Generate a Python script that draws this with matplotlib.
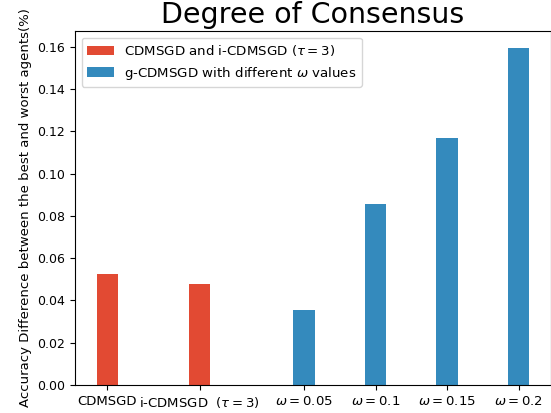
import matplotlib
matplotlib.use("Agg")
import matplotlib.pyplot as plt

# data
red_labels = ["CDMSGD", "i-CDMSGD  ($\\tau=3$)"]
red_values = [0.0525, 0.0477]
blue_labels = ["$\\omega=0.05$", "$\\omega=0.1$", "$\\omega=0.15$", "$\\omega=0.2$"]
blue_values = [0.0354, 0.0857, 0.117, 0.1595]

# layout
red_pos = [0.0, 1.29]
blue_pos = [2.75, 3.75, 4.75, 5.75]
width = 0.3
red_color = "#E24A33"
blue_color = "#348ABD"

plt.rcParams["font.size"] = 9.5

fig = plt.figure(figsize=(5.51, 4.13), dpi=100)
ax = fig.add_axes([75 / 551, 28 / 413, 476 / 551, 354 / 413])

ax.bar(red_pos, red_values, width, color=red_color,
       label="CDMSGD and i-CDMSGD ($\\tau=3$)")
ax.bar(blue_pos, blue_values, width, color=blue_color,
       label="g-CDMSGD with different $\\omega$ values")

ax.set_xticks(red_pos + blue_pos)
ax.set_xticklabels(red_labels + blue_labels, fontsize=9.5)
ax.set_yticks([0.0, 0.02, 0.04, 0.06, 0.08, 0.10, 0.12, 0.14, 0.16])
ax.tick_params(axis="y", labelsize=9)
ax.set_ylabel("Accuracy Difference between the best and worst agents(%)",
              fontsize=9.5)
ax.set_title("Degree of Consensus", fontsize=20.5)
ax.legend(loc="upper left", fontsize=9.6)

fig.savefig("out.png", dpi=100)
